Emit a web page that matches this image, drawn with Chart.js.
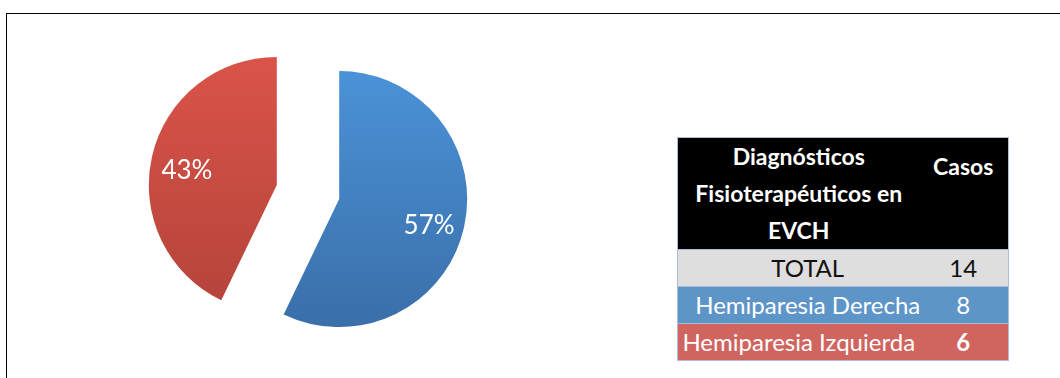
<!DOCTYPE html>
<html>
<head>
<meta charset="utf-8">
<script src="https://cdn.jsdelivr.net/npm/chart.js@4.4.1/dist/chart.umd.min.js"></script>
<style>
  html, body { margin: 0; padding: 0; background: #fff; }
  body { width: 1060px; height: 378px; position: relative; overflow: hidden; font-family: Lato, "Open Sans", sans-serif; }
  .frame { position: absolute; left: 6px; top: 13px; width: 1060px; height: 380px; border-top: 1px solid #000; border-left: 1px solid #000; }
  .pie { position: absolute; left: 138px; top: 22px; width: 340px; height: 340px; }
  table { position: absolute; left: 677px; top: 137px; width: 331px; table-layout: fixed; border-collapse: collapse; border: 1px solid #a9bdd8; }
  td, th { border-top: 1px solid #a9bdd8; border-bottom: 1px solid #a9bdd8; padding: 0; text-align: center; box-sizing: border-box; }
  th { background: #000; color: #fff; font-weight: bold; font-size: 23px; line-height: 37px; height: 110px; }
  th.diag { padding-right: 10px; }
  th.casos, td.num { padding-right: 11px; }
  th.casos { vertical-align: top; padding-top: 10px; }
  td { font-size: 24px; line-height: 36px; height: 37px; }
  td.label { padding-left: 8px; }
  tr.total td { background: #dedede; color: #111; }
  tr.der td { background: #5e95c9; color: #fff; }
  tr.izq td { background: #d0655f; color: #fff; }
  tr.izq td.label { white-space: nowrap; padding-left: 0; padding-right: 10px; }
  tr.izq td.num { font-weight: bold; }
</style>
</head>
<body>
<div class="frame"></div>
<div class="pie"><canvas id="pieChart" width="340" height="340"></canvas></div>
<table id="casos"></table>

<script>
// data
const labels = ['Hemiparesia Derecha', 'Hemiparesia Izquierda'];
const cases = [8, 6];
const topColors = ['#4b93d9', '#db5449'];
const bottomColors = ['#3a6ea7', '#b3433a'];

const total = cases.reduce((a, b) => a + b, 0);

// table next to the pie
const table = document.getElementById('casos');
table.innerHTML = `
  <colgroup><col style="width:252px"><col style="width:79px"></colgroup>
  <tr>
    <th class="diag">Diagnósticos<br>Fisioterapéuticos en<br>EVCH</th>
    <th class="casos">Casos</th>
  </tr>
  <tr class="total"><td class="label">TOTAL</td><td class="num">${total}</td></tr>
  <tr class="der"><td class="label">${labels[0]}</td><td class="num">${cases[0]}</td></tr>
  <tr class="izq"><td class="label">${labels[1]}</td><td class="num">${cases[1]}</td></tr>
`;

// how far each slice is pulled out from the centre, in px
const EXPLODE = 32;

function midAngle(arc) {
    const p = arc.getProps(['startAngle', 'endAngle']);
    return (p.startAngle + p.endAngle) / 2;
}

// draw the slices shifted outwards along their middle angle
// (the built-in offset also grows the radius, which we don't want)
const explodedSlices = {
    id: 'explodedSlices',
    beforeDatasetDraw(chart, args) {
        const ctx = chart.ctx;
        args.meta.data.forEach(arc => {
            const mid = midAngle(arc);
            ctx.save();
            ctx.translate(Math.cos(mid) * EXPLODE, Math.sin(mid) * EXPLODE);
            arc.draw(ctx, chart.chartArea);
            ctx.restore();
        });
        return false;
    }
};

// percentage labels inside each slice
const percentLabels = {
    id: 'percentLabels',
    afterDatasetsDraw(chart) {
        const ctx = chart.ctx;
        const meta = chart.getDatasetMeta(0);
        const ds = chart.data.datasets[0];
        ctx.save();
        ctx.fillStyle = '#fff';
        ctx.font = '26px Lato';
        ctx.textAlign = 'center';
        ctx.textBaseline = 'middle';
        meta.data.forEach((arc, i) => {
            const p = arc.getProps(['x', 'y', 'outerRadius']);
            const mid = midAngle(arc);
            const r = EXPLODE + p.outerRadius * 0.72;
            const pct = Math.round(ds.data[i] / total * 100) + '%';
            ctx.fillText(pct, p.x + Math.cos(mid) * r, p.y + Math.sin(mid) * r + 6);
        });
        ctx.restore();
    }
};

function sliceFill(context) {
    const chart = context.chart;
    const area = chart.chartArea;
    if (!area) return topColors[context.dataIndex];
    const g = chart.ctx.createLinearGradient(0, area.top + 20, 0, area.bottom - 20);
    g.addColorStop(0.05, topColors[context.dataIndex]);
    g.addColorStop(0.95, bottomColors[context.dataIndex]);
    return g;
}

new Chart(document.getElementById('pieChart').getContext('2d'), {
    type: 'pie',
    data: {
        labels: labels,
        datasets: [{
            data: cases,
            backgroundColor: sliceFill,
            borderWidth: 0,
            radius: 128
        }]
    },
    options: {
        responsive: false,
        animation: false,
        layout: { padding: 0 },
        plugins: {
            legend: { display: false },
            tooltip: { enabled: false }
        }
    },
    plugins: [explodedSlices, percentLabels]
});
</script>
</body>
</html>
